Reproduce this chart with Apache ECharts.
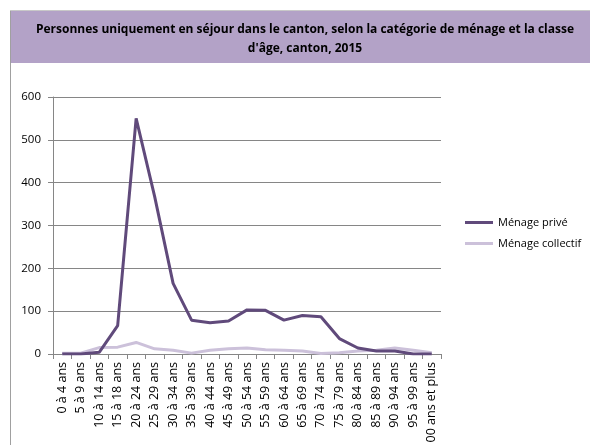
<!DOCTYPE html>
<html><head><meta charset="utf-8">
<script src="https://cdn.jsdelivr.net/npm/echarts@6/dist/echarts.min.js"></script>
<style>html,body{margin:0;padding:0;background:#fff}#c{width:590px;height:445px}</style>
</head><body><div id="c"></div>
<script>
const categories = ["0 à 4 ans","5 à 9 ans","10 à 14 ans","15 à 18 ans","20 à 24 ans","25 à 29 ans","30 à 34 ans","35 à 39 ans","40 à 44 ans","45 à 49 ans","50 à 54 ans","55 à 59 ans","60 à 64 ans","65 à 69 ans","70 à 74 ans","75 à 79 ans","80 à 84 ans","85 à 89 ans","90 à 94 ans","95 à 99 ans","100 ans et plus"];
const menagePrive = [0,0,4,66,550,368,165,79,73,77,103,102,79,90,87,36,14,7,7,0,0];
const menageCollectif = [2,2,15,16,27,12,9,2,9,12,14,10,9,7,1,3,7,9,14,9,3];
const yTicks = [0,100,200,300,400,500,600];
const titleText = "Personnes uniquement en séjour dans le canton, selon la catégorie de ménage et la classe\nd'âge, canton, 2015";

const font = "'Open Sans', 'DejaVu Sans', sans-serif";
const chart = echarts.init(document.getElementById('c'));
chart.setOption({
  animation:false,
  graphic:[
    {type:'rect', shape:{x:10,y:10,width:580,height:53}, style:{fill:'#b3a2c7'}, z:0},
    {type:'line', shape:{x1:10.5,y1:10,x2:10.5,y2:445}, style:{stroke:'#a0a0a0',lineWidth:1}},
    {type:'line', shape:{x1:10,y1:10.5,x2:590,y2:10.5}, style:{stroke:'#c8c8c8',lineWidth:1}}
  ],
  title:{text:titleText, left:300, top:15, textAlign:'center',
    textStyle:{fontFamily:font, fontSize:12, fontWeight:'bold', color:'#000', lineHeight:19}},
  legend:{orient:'vertical', left:465, top:217, itemWidth:28, itemHeight:3, itemGap:10, padding:0,
    icon:'rect', textStyle:{fontFamily:font, fontSize:11, color:'#000'},
    data:['Ménage privé','Ménage collectif']},
  grid:{left:53, right:149, top:97, bottom:91, outerBoundsMode:'none', containLabel:false},
  xAxis:{type:'category', data:categories, boundaryGap:true,
    axisLine:{lineStyle:{color:'#868686'}},
    axisTick:{show:true, interval:0, length:5, lineStyle:{color:'#868686'}},
    axisLabel:{interval:0, rotate:90, fontFamily:font, fontSize:12.5, color:'#000', margin:8}},
  yAxis:{type:'value', min:yTicks[0], max:yTicks[yTicks.length-1], interval:100,
    axisLine:{show:true, lineStyle:{color:'#868686'}},
    axisTick:{show:true, length:5, lineStyle:{color:'#868686'}},
    splitLine:{lineStyle:{color:'#868686'}},
    axisLabel:{fontFamily:font, fontSize:11.5, color:'#000', margin:12}},
  series:[
    {name:'Ménage collectif', type:'line', data:menageCollectif, symbol:'none', z:2,
      lineStyle:{color:'#ccc1da', width:3}, itemStyle:{color:'#ccc1da'}},
    {name:'Ménage privé', type:'line', data:menagePrive, symbol:'none', z:3,
      lineStyle:{color:'#604a7b', width:3}, itemStyle:{color:'#604a7b'}}
  ]
});
</script></body></html>
